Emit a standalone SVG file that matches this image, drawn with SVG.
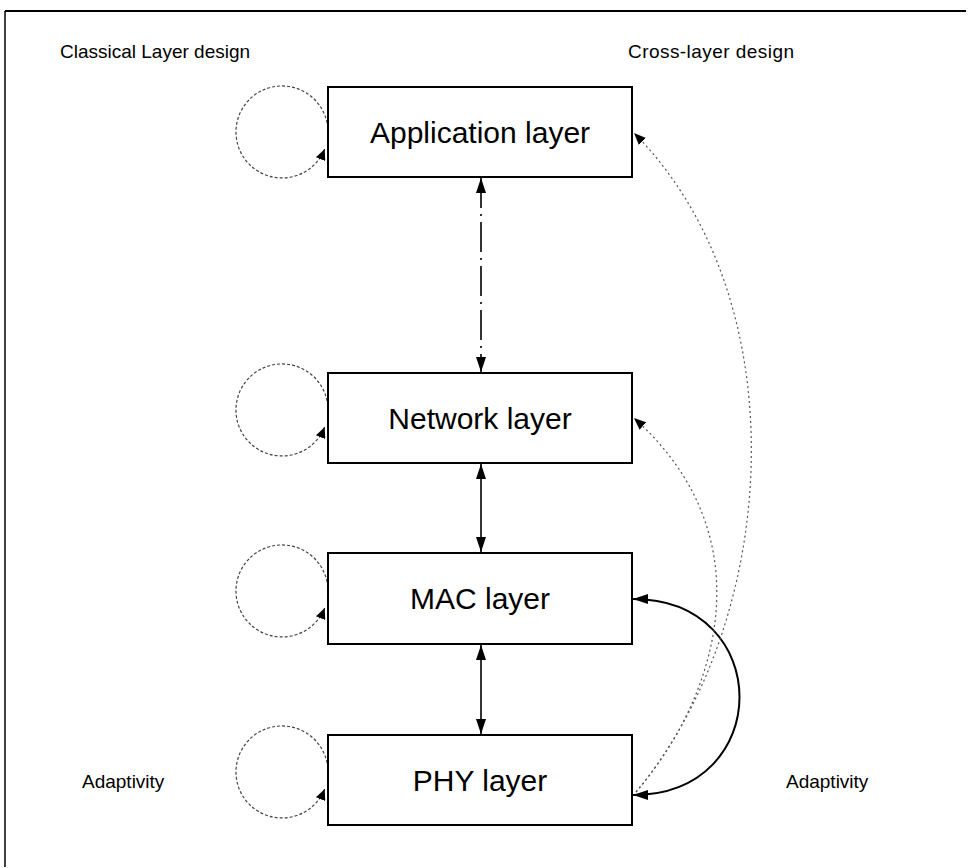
<svg xmlns="http://www.w3.org/2000/svg" width="969" height="868" viewBox="0 0 969 868">
<style>
  .box { fill: #fff; stroke: #000; stroke-width: 2; }
  .lbl { font-family: "Liberation Sans", Arial, sans-serif; font-size: 30px; fill: #000; text-anchor: middle; }
  .note { font-family: "Liberation Sans", Arial, sans-serif; font-size: 19px; fill: #000; }
  .loop { fill: none; stroke: #444; stroke-width: 1.2; stroke-dasharray: 3 2; marker-end: url(#sm); }
  .vert { fill: none; stroke: #000; stroke-width: 1.6; marker-start: url(#ar); marker-end: url(#ar); }
  .cross { fill: none; stroke: #555; stroke-width: 1.2; stroke-dasharray: 2 3; marker-end: url(#md); }
</style>
<defs>
  <marker id="ar" viewBox="0 0 15 10" refX="15" refY="5" markerWidth="15" markerHeight="10" markerUnits="userSpaceOnUse" orient="auto-start-reverse">
    <path d="M0,0 L15,5 L0,10 z" fill="#000"/>
  </marker>
  <marker id="md" viewBox="0 0 12 10" refX="12" refY="5" markerWidth="12" markerHeight="10" markerUnits="userSpaceOnUse" orient="auto">
    <path d="M0,0 L12,5 L0,10 z" fill="#000"/>
  </marker>
  <marker id="sm" viewBox="0 0 11 10" refX="11" refY="5" markerWidth="11" markerHeight="10" markerUnits="userSpaceOnUse" orient="auto">
    <path d="M0,0 L11,5 L0,10 z" fill="#000"/>
  </marker>
</defs>
<rect width="969" height="868" fill="#fff"/>
<g id="frame" stroke="#000" fill="none">
  <line x1="5" y1="11" x2="966" y2="11" stroke-width="2"/>
  <line x1="5" y1="11" x2="5" y2="867" stroke-width="1.5"/>
</g>
<g id="labels">
  <text class="note" x="60" y="58">Classical Layer design</text>
  <text class="note" x="628" y="58" textLength="166">Cross-layer design</text>
  <text class="note" x="82" y="788">Adaptivity</text>
  <text class="note" x="786" y="788">Adaptivity</text>
</g>
<g id="connectors">
  <path class="loop" d="M327.8,128 A46 46 0 1 0 324.7,149"/>
  <path class="loop" d="M327.8,406 A46 46 0 1 0 324.7,427"/>
  <path class="loop" d="M327.8,587 A46 46 0 1 0 324.7,608"/>
  <path class="loop" d="M327.8,768 A46 46 0 1 0 324.7,789"/>
  <line class="vert" x1="481" y1="178" x2="481" y2="372" stroke-dasharray="30 6 2 6"/>
  <line class="vert" x1="481" y1="464" x2="481" y2="552"/>
  <line class="vert" x1="481" y1="645" x2="481" y2="734" stroke-width="1.2"/>
  <path d="M633,599 C775,599 775,795 633,795" fill="none" stroke="#000" stroke-width="2" marker-start="url(#ar)" marker-end="url(#ar)"/>
  <path class="cross" d="M636,792 C715,700 770,540 634,418"/>
  <path class="cross" d="M636,792 C780,620 800,300 634,133"/>
</g>
<g id="app"><rect class="box" x="328" y="87" width="304" height="90"/><text class="lbl" x="480" y="143">Application layer</text></g>
<g id="net"><rect class="box" x="328" y="373" width="304" height="90"/><text class="lbl" x="480" y="429">Network layer</text></g>
<g id="mac"><rect class="box" x="328" y="553" width="304" height="91"/><text class="lbl" x="480" y="609">MAC layer</text></g>
<g id="phy"><rect class="box" x="328" y="735" width="304" height="90"/><text class="lbl" x="480" y="791">PHY layer</text></g>
</svg>
